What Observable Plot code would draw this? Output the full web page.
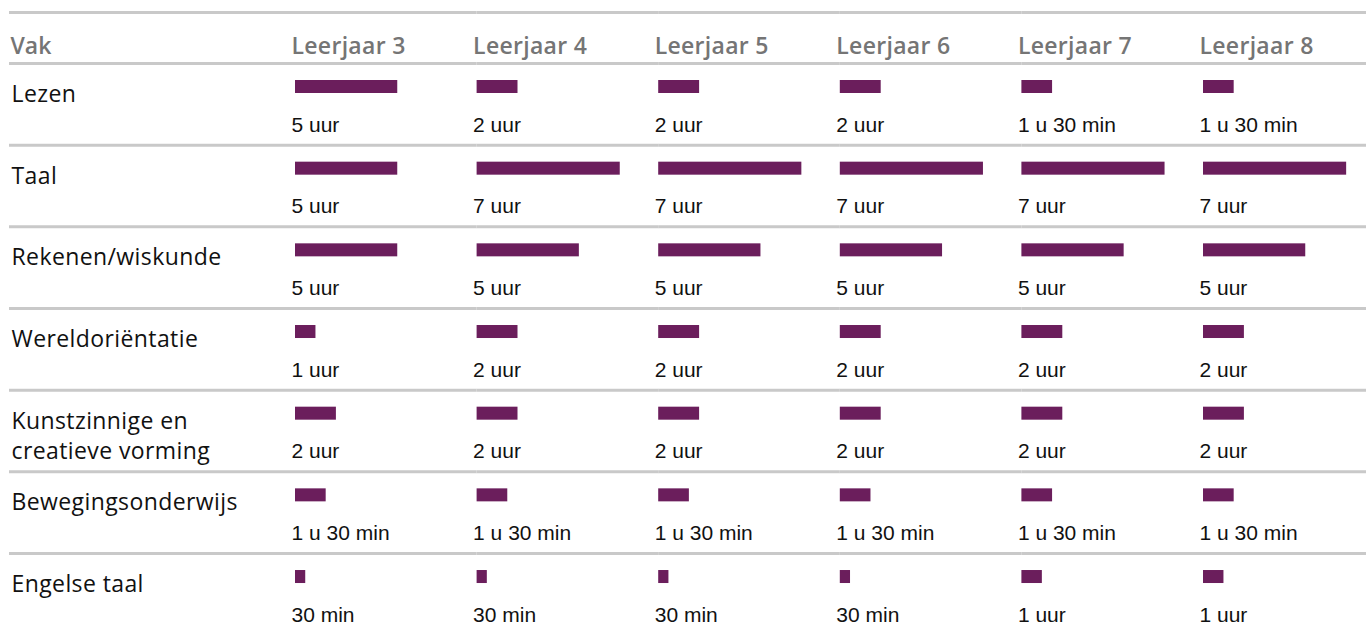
<!DOCTYPE html>
<html>
<head>
<meta charset="utf-8">
<script src="https://cdn.jsdelivr.net/npm/d3@7"></script>
<script src="https://cdn.jsdelivr.net/npm/@observablehq/plot@0.6"></script>
<style>
  html, body { margin: 0; padding: 0; background: #fff; }
  #chart svg { display: block; }
  #chart g[aria-label="y-axis tick label"] text { letter-spacing: 0.4px; }
  #chart g[aria-label="fx-axis tick label"] text { letter-spacing: 0.3px; }
</style>
</head>
<body>
<div id="chart"></div>
<script>
// Subjects (rows) and school years (columns)
const subjects = [
  "Lezen",
  "Taal",
  "Rekenen/wiskunde",
  "Wereldoriëntatie",
  "Kunstzinnige en creatieve vorming",
  "Bewegingsonderwijs",
  "Engelse taal"
];
const subjectLabels = [
  "Lezen",
  "Taal",
  "Rekenen/wiskunde",
  "Wereldoriëntatie",
  "Kunstzinnige en\ncreatieve vorming",
  "Bewegingsonderwijs",
  "Engelse taal"
];
const grades = ["Leerjaar 3", "Leerjaar 4", "Leerjaar 5", "Leerjaar 6", "Leerjaar 7", "Leerjaar 8"];
const headerFirst = "Vak";

// Hours per week, one array per subject (Leerjaar 3 .. 8)
const lezen       = [5, 2, 2, 2, 1.5, 1.5];
const taal        = [5, 7, 7, 7, 7, 7];
const rekenen     = [5, 5, 5, 5, 5, 5];
const wereld      = [1, 2, 2, 2, 2, 2];
const kunst       = [2, 2, 2, 2, 2, 2];
const beweging    = [1.5, 1.5, 1.5, 1.5, 1.5, 1.5];
const engels      = [0.5, 0.5, 0.5, 0.5, 1, 1];

// Value labels as printed
const lezenLbl    = ["5 uur", "2 uur", "2 uur", "2 uur", "1 u 30 min", "1 u 30 min"];
const taalLbl     = ["5 uur", "7 uur", "7 uur", "7 uur", "7 uur", "7 uur"];
const rekenenLbl  = ["5 uur", "5 uur", "5 uur", "5 uur", "5 uur", "5 uur"];
const wereldLbl   = ["1 uur", "2 uur", "2 uur", "2 uur", "2 uur", "2 uur"];
const kunstLbl    = ["2 uur", "2 uur", "2 uur", "2 uur", "2 uur", "2 uur"];
const bewegingLbl = ["1 u 30 min", "1 u 30 min", "1 u 30 min", "1 u 30 min", "1 u 30 min", "1 u 30 min"];
const engelsLbl   = ["30 min", "30 min", "30 min", "30 min", "1 uur", "1 uur"];

const valueRows = [lezen, taal, rekenen, wereld, kunst, beweging, engels];
const labelRows = [lezenLbl, taalLbl, rekenenLbl, wereldLbl, kunstLbl, bewegingLbl, engelsLbl];

const data = [];
subjects.forEach((s, i) => {
  grades.forEach((g, j) => {
    data.push({subject: s, grade: g, hours: valueRows[i][j], label: labelRows[i][j]});
  });
});

// Layout (styling)
const W = 1369, H = 631;
const mLeft = 295, mTop = 63;
const colW = 181.6;
const rowH = 81.67;
const barColor = "#6b1e5c";
const lineColor = "#c9c9c9";
const labelFont = "'Open Sans', 'Noto Sans', sans-serif";
const valueFont = "'Liberation Sans', Arial, sans-serif";
const frameRight = mLeft + colW * grades.length;
const lineLeft = 9, lineRight = 1366;

// horizontal separators: drawn per column cell, extended into the subject column / trimmed at the right
function separators(rows, dy) {
  const first = grades[0], last = grades[grades.length - 1];
  const common = {fx: "grade", y: "subject", dy, stroke: lineColor, strokeWidth: 3};
  return [
    Plot.ruleY(rows.filter(d => d.grade === first), {...common, insetLeft: -(mLeft - lineLeft)}),
    Plot.ruleY(rows.filter(d => d.grade !== first && d.grade !== last), common),
    Plot.ruleY(rows.filter(d => d.grade === last), {...common, insetRight: frameRight - lineRight})
  ];
}
const firstRow = data.filter(d => d.subject === subjects[0]);
const innerRows = data.filter(d => d.subject !== subjects[subjects.length - 1]);

const chart = Plot.plot({
  width: W,
  height: H,
  marginLeft: mLeft,
  marginRight: W - frameRight,
  marginTop: mTop,
  marginBottom: 0,
  style: {background: "#fff", overflow: "visible"},
  fx: {domain: grades, padding: 0, round: false, axis: null},
  x: {domain: [0, colW / 20.45], axis: null},
  y: {domain: subjects, range: [mTop, mTop + rowH * subjects.length], padding: 0, round: false, axis: null},
  marks: [
    ...separators(firstRow, -rowH / 2 - 51),
    ...separators(firstRow, -rowH / 2),
    ...separators(innerRows, rowH / 2),
    // header
    Plot.text([headerFirst], {text: d => d, frameAnchor: "top-left", facet: "super", dx: -(mLeft - 10), dy: -10, lineAnchor: "bottom", textAnchor: "start", fill: "#757575", fontSize: 23, fontWeight: 600, fontFamily: labelFont}),
    Plot.axisFx({anchor: "top", tickSize: 0, tickPadding: 10, textAnchor: "start", dx: -colW / 2 - 4, fill: "#757575", fontSize: 23, fontWeight: 600, fontFamily: labelFont, label: null, lineAnchor: "bottom"}),
    // row labels
    Plot.axisY({anchor: "left", tickSize: 0, tickPadding: 0, textAnchor: "start", lineAnchor: "top", lineHeight: 1.32, dx: -(mLeft - 11), dy: -24, fill: "#111", fontSize: 23, fontFamily: labelFont, label: null, tickFormat: d => subjectLabels[subjects.indexOf(d)]}),
    // bars
    Plot.barX(data, {fx: "grade", y: "subject", x: "hours", fill: barColor, insetTop: 17, insetBottom: rowH - 30}),
    // value labels
    Plot.text(data, {fx: "grade", y: "subject", text: "label", frameAnchor: "left", textAnchor: "start", dx: -4, dy: 20.5, fill: "#111", fontSize: 21, fontFamily: valueFont})
  ]
});
document.getElementById("chart").appendChild(chart);
</script>
</body>
</html>
